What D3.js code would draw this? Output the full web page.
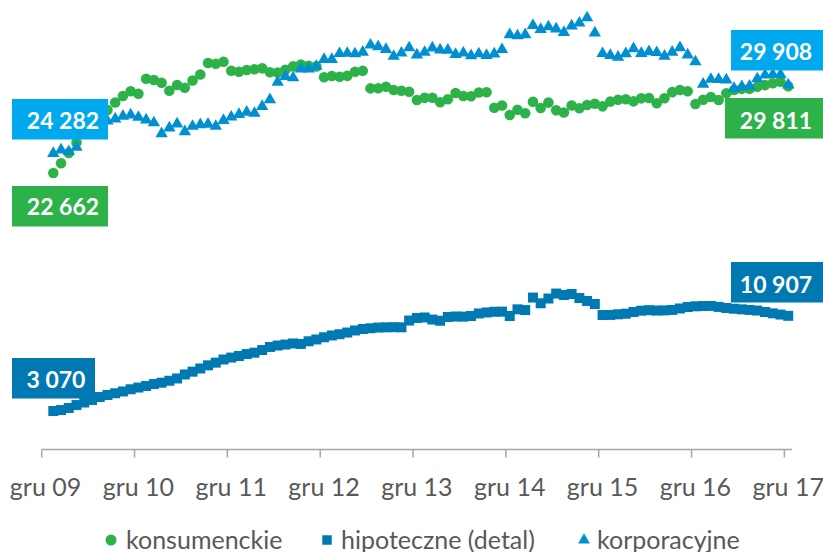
<!DOCTYPE html>
<html>
<head>
<meta charset="utf-8">
<script src="https://cdn.jsdelivr.net/npm/d3@7/dist/d3.min.js"></script>
<style>
  html, body { margin: 0; padding: 0; background: #fff; }
  svg { display: block; font-family: Lato, "Open Sans", sans-serif; }
</style>
</head>
<body>
<svg id="chart" width="823" height="552"></svg>
<script>
// Monthly balances, Jan 2010 - Dec 2017
const tickLabels = ["gru 09", "gru 10", "gru 11", "gru 12", "gru 13", "gru 14", "gru 15", "gru 16", "gru 17"];

const konsumenckie = [
  22662, 23460, 24310, 25170, 26120, 26860, 27440, 27850, 28470, 29000, 29400, 29190,
  30420, 30320, 30100, 29440, 29910, 29680, 30280, 30770, 31720, 31660, 31820, 31080,
  31000, 31140, 31200, 31280, 30960, 30930, 31170, 31440, 31590, 31490, 31440, 30540,
  30650, 30590, 30660, 31000, 31080, 29630, 29640, 29770, 29490, 29440, 29350, 28670,
  28850, 28860, 28490, 28730, 29250, 29000, 28980, 29290, 29310, 28030, 28220, 27440,
  27870, 27580, 28530, 28010, 28460, 27820, 27640, 28220, 28000, 28260, 28370, 28150,
  28540, 28700, 28740, 28560, 28810, 28840, 28400, 28820, 29320, 29500, 29400, 28340,
  28690, 28920, 28670, 29220, 29490, 29590, 29600, 29770, 29900, 30050, 30180, 29811
];

const hipoteczne = [
  3070, 3150, 3320, 3560, 3770, 3980, 4220, 4390, 4530, 4680, 4860, 5000,
  5130, 5290, 5400, 5560, 5750, 6080, 6310, 6570, 6830, 7050, 7310, 7470,
  7600, 7760, 7870, 8090, 8340, 8460, 8540, 8630, 8590, 8810, 8960, 9140,
  9290, 9390, 9530, 9700, 9820, 9880, 9940, 9960, 9970, 9960, 10520, 10730,
  10770, 10600, 10500, 10810, 10850, 10840, 10890, 11100, 11180, 11240, 11250, 10890,
  11440, 11380, 12410, 11940, 12330, 12740, 12620, 12700, 12370, 12130, 11880, 10970,
  10980, 11030, 11080, 11220, 11330, 11370, 11340, 11350, 11390, 11510, 11630, 11690,
  11710, 11720, 11640, 11550, 11490, 11440, 11390, 11340, 11220, 11110, 11010, 10907
];

const korporacyjne = [
  24282, 24560, 24430, 24780, 25790, 26450, 26780, 26940, 27110, 27350, 27440, 27250,
  27030, 26800, 25910, 26370, 26700, 26060, 26510, 26650, 26680, 26510, 27000, 27270,
  27480, 27680, 27580, 28150, 28700, 30150, 30610, 30500, 31240, 31230, 31450, 32020,
  32010, 32500, 32520, 32480, 32610, 33200, 33060, 32840, 32270, 32540, 32970, 32380,
  32600, 32960, 32790, 32780, 32420, 32540, 32330, 32480, 32340, 32460, 32830, 34060,
  33960, 34050, 34820, 34480, 34700, 34520, 34230, 34780, 35010, 35440, 34190, 32500,
  32350, 32200, 32490, 32900, 32510, 32650, 32580, 32290, 32610, 32980, 32380, 31820,
  29970, 30380, 30370, 30320, 29630, 29770, 29820, 30420, 30730, 30770, 30760, 29908
];

const seriesNames = ["konsumenckie", "hipoteczne (detal)", "korporacyjne"];

// Colours
const GREEN = "#2db24a";
const DARK_BLUE = "#0079b3";
const MID_BLUE = "#0090d2";
const LIGHT_BLUE = "#00a9ee";
const AXIS_GREY = "#a6a6a6";
const TEXT_GREY = "#595959";

const svg = d3.select("#chart");

// One band per month from Dec 2009 to Dec 2017; data start in the second slot.
const slotCount = konsumenckie.length + 1;
const x = d3.scaleBand()
  .domain(d3.range(slotCount))
  .range([41.7, 792.1])
  .paddingInner(0).paddingOuter(0);
const bw = x.bandwidth();
const px = i => x(i + 1) + bw / 2;

const y = d3.scaleLinear().domain([0, 36000]).range([448.3, 11.0]);

// Category axis: line, ticks at the start of each December slot, labels centred on the slot
const axisY = 449.5;
const axis = svg.append("g");
axis.append("line")
  .attr("x1", x.range()[0]).attr("x2", x.range()[1])
  .attr("y1", axisY).attr("y2", axisY)
  .attr("stroke", AXIS_GREY).attr("stroke-width", 1.5);
tickLabels.forEach((lab, k) => {
  const tx = x(k * 12);
  axis.append("line")
    .attr("x1", tx).attr("x2", tx)
    .attr("y1", axisY).attr("y2", axisY + 8)
    .attr("stroke", AXIS_GREY).attr("stroke-width", 1.5);
  axis.append("text")
    .attr("x", tx + bw / 2).attr("y", 496)
    .attr("text-anchor", "middle")
    .attr("fill", TEXT_GREY)
    .attr("font-size", 25)
    .text(lab);
});

// Markers
const circle = d3.symbol().type(d3.symbolCircle).size(88);
const square = d3.symbol().type(d3.symbolSquare).size(100);
const triangle = d3.symbol().type(d3.symbolTriangle).size(66);

function drawSeries(values, sym, color) {
  svg.append("g").selectAll("path")
    .data(values)
    .join("path")
    .attr("d", sym)
    .attr("transform", (d, i) => `translate(${px(i)},${y(d)})`)
    .attr("fill", color);
}
drawSeries(konsumenckie, circle, GREEN);
drawSeries(hipoteczne, square, DARK_BLUE);
drawSeries(korporacyjne, triangle, MID_BLUE);

// Value callouts for the first and last month
const fmt = v => d3.format(",")(v).replace(/,/g, " ");
const last = konsumenckie.length - 1;
const callouts = [
  { v: korporacyjne[0],  fill: LIGHT_BLUE, x0: 12,  x1: 108, top: 99,  tx: 63,  base: 128.5 },
  { v: konsumenckie[0],  fill: GREEN,      x0: 12,  x1: 108, top: 186, tx: 63,  base: 214.5 },
  { v: hipoteczne[0],    fill: DARK_BLUE,  x0: 12,  x1: 95,  top: 358, tx: 56,  base: 387.5 },
  { v: korporacyjne[last], fill: LIGHT_BLUE, x0: 731, x1: 823, top: 30,  tx: 776, base: 60 },
  { v: konsumenckie[last], fill: GREEN,      x0: 725, x1: 823, top: 98,  tx: 776, base: 128.5 },
  { v: hipoteczne[last],   fill: DARK_BLUE,  x0: 731, x1: 823, top: 262, tx: 776, base: 292.5 }
];
const cg = svg.append("g");
callouts.forEach(c => {
  cg.append("rect")
    .attr("x", c.x0).attr("y", c.top)
    .attr("width", c.x1 - c.x0).attr("height", 40.5)
    .attr("fill", c.fill);
  cg.append("text")
    .attr("x", c.tx).attr("y", c.base)
    .attr("text-anchor", "middle")
    .attr("fill", "#fff")
    .attr("font-size", 23)
    .attr("font-weight", 700)
    .text(fmt(c.v));
});

// Legend
const legendY = 540;
const legendItems = [
  { name: seriesNames[0], sym: d3.symbol().type(d3.symbolCircle).size(95), color: GREEN, mx: 111, tx: 126 },
  { name: seriesNames[1], sym: d3.symbol().type(d3.symbolSquare).size(90), color: DARK_BLUE, mx: 327, tx: 341 },
  { name: seriesNames[2], sym: d3.symbol().type(d3.symbolTriangle).size(60), color: MID_BLUE, mx: 584, tx: 597 }
];
const lg = svg.append("g");
legendItems.forEach(it => {
  lg.append("path")
    .attr("d", it.sym)
    .attr("transform", `translate(${it.mx},${legendY})`)
    .attr("fill", it.color);
  lg.append("text")
    .attr("x", it.tx).attr("y", legendY + 8.5)
    .attr("fill", TEXT_GREY)
    .attr("font-size", 25)
    .text(it.name);
});
</script>
</body>
</html>
